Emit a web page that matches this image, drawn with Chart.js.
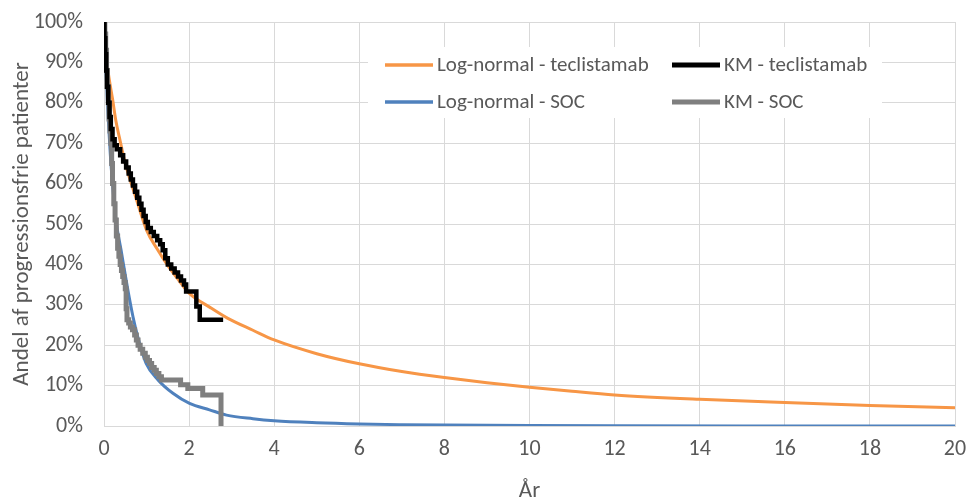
<!DOCTYPE html>
<html>
<head>
<meta charset="utf-8">
<script src="https://cdn.jsdelivr.net/npm/chart.js@4.4.0/dist/chart.umd.min.js"></script>
<style>
  html, body { margin: 0; padding: 0; background: #fff; }
</style>
</head>
<body>
<canvas id="pfsChart" width="971" height="501"></canvas>
<script>
// Log-normal fit, teclistamab (years, % progression free)
var lnTecT = [0, 0.03, 0.07, 0.12, 0.2, 0.28, 0.36, 0.5, 0.75, 1.0, 1.25, 1.5, 1.75, 2.0, 2.5, 2.9, 3.5, 4, 5, 6, 7, 8, 9, 10, 11, 12, 14, 16, 18, 20];
var lnTecS = [100, 95, 90, 86, 81, 75.5, 71.5, 65, 56.5, 48.5, 43.8, 39.7, 36.2, 32.9, 29.3, 26.7, 23.7, 21.3, 17.9, 15.4, 13.5, 12.0, 10.7, 9.6, 8.6, 7.7, 6.6, 5.8, 5.1, 4.5];

// Kaplan-Meier, teclistamab
var kmTecT = [0, 0.01, 0.03, 0.05, 0.07, 0.1, 0.13, 0.16, 0.2, 0.25, 0.3, 0.38, 0.45, 0.52, 0.58, 0.63, 0.68, 0.73, 0.78, 0.83, 0.88, 0.93, 0.98, 1.03, 1.1, 1.17, 1.25, 1.32, 1.38, 1.44, 1.5, 1.58, 1.66, 1.74, 1.81, 1.88, 1.93, 2.17, 2.25, 2.8];
var kmTecS = [100, 96, 92, 88, 84, 80, 76.5, 73.5, 71, 69.5, 68.5, 67, 65.5, 64, 62.5, 61, 59.5, 58, 56.5, 55, 53.5, 52, 50.5, 49, 48, 47, 46, 45, 43.5, 41.5, 40, 39, 38, 37, 36, 35, 33.3, 29.6, 26.3, 26.3];

// Log-normal fit, SOC
var lnSocT = [0, 0.02, 0.05, 0.1, 0.15, 0.2, 0.28, 0.4, 0.56, 0.68, 0.8, 0.99, 1.27, 1.62, 2.01, 2.48, 2.88, 3.5, 4, 5, 6, 7, 8, 10, 12, 15, 20];
var lnSocS = [100, 95, 87, 76, 67, 60, 51, 43.6, 33.7, 27.1, 21.8, 15.5, 11.4, 8.1, 5.6, 4.0, 2.7, 1.8, 1.3, 0.8, 0.5, 0.33, 0.22, 0.1, 0.05, 0.02, 0.01];

// Kaplan-Meier, SOC
var kmSocT = [0, 0.02, 0.04, 0.06, 0.08, 0.1, 0.12, 0.14, 0.16, 0.18, 0.2, 0.23, 0.26, 0.29, 0.32, 0.35, 0.38, 0.41, 0.44, 0.47, 0.5, 0.52, 0.54, 0.58, 0.62, 0.67, 0.72, 0.76, 0.8, 0.85, 0.91, 0.97, 1.02, 1.07, 1.12, 1.18, 1.23, 1.29, 1.35, 1.8, 1.97, 2.32, 2.75];
var kmSocS = [100, 97, 93, 88, 84, 80, 76, 73, 70, 65, 60, 55, 51, 47, 44, 42, 40, 38.5, 37, 35.5, 34, 29, 26.3, 25.5, 24.5, 23.8, 22.5, 21.3, 20, 19, 18, 17, 16.2, 15.5, 14.5, 13.8, 13, 12.2, 11.4, 10.2, 9.3, 7.7, 0];

var seriesLabels = ['Log-normal - teclistamab', 'KM - teclistamab', 'Log-normal - SOC', 'KM - SOC'];
var seriesColors = ['#F79646', '#000000', '#4F81BD', '#7F7F7F'];

var yTicks = [0, 10, 20, 30, 40, 50, 60, 70, 80, 90, 100];
var xTicks = [0, 2, 4, 6, 8, 10, 12, 14, 16, 18, 20];

var FONT = 'Calibri, Carlito, Lato, sans-serif';
var TEXT = '#595959';
var GRID = '#D9D9D9';

function toPoints(xs, ys) {
  return xs.map(function (x, i) { return { x: x, y: ys[i] }; });
}

// legend drawn inside the plot, two columns on a white box
var insideLegend = {
  id: 'insideLegend',
  beforeDatasetsDraw: function (chart) {
    var ctx = chart.ctx;
    ctx.save();
    ctx.fillStyle = '#fff';
    ctx.fillRect(368, 47, 514, 71);
    var cols = [385, 672];
    var rows = [65, 102];
    var widths = [3.5, 5, 3.5, 5];
    ctx.font = '21px ' + FONT;
    ctx.textBaseline = 'middle';
    for (var i = 0; i < 4; i++) {
      var x = cols[i % 2], y = rows[Math.floor(i / 2)];
      ctx.strokeStyle = seriesColors[i];
      ctx.lineWidth = widths[i];
      ctx.beginPath();
      ctx.moveTo(x, y);
      ctx.lineTo(x + 48, y);
      ctx.stroke();
      ctx.fillStyle = TEXT;
      ctx.fillText(seriesLabels[i], x + 52, y + 1);
    }
    ctx.restore();
  }
};

var ctx = document.getElementById('pfsChart').getContext('2d');
var chart = new Chart(ctx, {
  type: 'line',
  data: {
    datasets: [{
      label: seriesLabels[0],
      data: toPoints(lnTecT, lnTecS),
      borderColor: seriesColors[0],
      borderWidth: 3,
      cubicInterpolationMode: 'monotone',
      order: 4
    }, {
      label: seriesLabels[1],
      data: toPoints(kmTecT, kmTecS),
      borderColor: seriesColors[1],
      borderWidth: 4.5,
      stepped: 'before',
      order: 1
    }, {
      label: seriesLabels[2],
      data: toPoints(lnSocT, lnSocS),
      borderColor: seriesColors[2],
      borderWidth: 3,
      cubicInterpolationMode: 'monotone',
      order: 3
    }, {
      label: seriesLabels[3],
      data: toPoints(kmSocT, kmSocS),
      borderColor: seriesColors[3],
      borderWidth: 5,
      stepped: 'before',
      order: 2
    }]
  },
  plugins: [insideLegend],
  options: {
    responsive: false,
    animation: false,
    devicePixelRatio: 1,
    layout: { padding: { top: 22, right: 16, left: 0, bottom: 0 } },
    elements: { point: { radius: 0 }, line: { fill: false } },
    plugins: {
      legend: { display: false },
      tooltip: { enabled: false }
    },
    scales: {
      x: {
        type: 'linear',
        min: 0,
        max: 20,
        afterFit: function (scale) {
          // fixed axis band, no extra room for the end labels
          scale.height = 75;
          scale.paddingLeft = 0;
          scale.paddingRight = 0;
        },
        afterBuildTicks: function (scale) {
          scale.ticks = xTicks.map(function (v) { return { value: v }; });
        },
        grid: { color: GRID, drawTicks: false },
        border: { color: GRID },
        ticks: { color: TEXT, font: { family: FONT, size: 22 }, padding: 10, maxRotation: 0 },
        title: {
          display: true,
          text: 'År',
          color: TEXT,
          font: { family: FONT, size: 23 },
          padding: { top: 0, bottom: -4 }
        }
      },
      y: {
        min: 0,
        max: 100,
        afterFit: function (scale) {
          scale.width = 104;
          scale.paddingTop = 0;
          scale.paddingBottom = 0;
        },
        afterBuildTicks: function (scale) {
          scale.ticks = yTicks.map(function (v) { return { value: v }; });
        },
        grid: { color: GRID, drawTicks: false },
        border: { color: GRID },
        ticks: {
          color: TEXT,
          font: { family: FONT, size: 22 },
          padding: 21,
          callback: function (v) { return v + '%'; }
        },
        title: {
          display: true,
          text: 'Andel af progressionsfrie patienter',
          color: TEXT,
          font: { family: FONT, size: 23 },
          padding: { top: 8, bottom: 0 }
        }
      }
    }
  }
});
</script>
</body>
</html>
